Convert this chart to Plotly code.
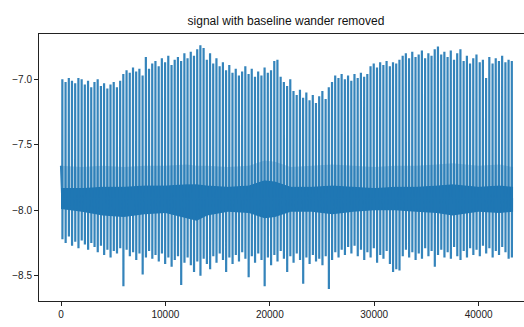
import plotly.graph_objects as go

# ---- data ----
first_value = -7.66
baseline = -7.91
end_sample = 43300

beat_pos = [
    130, 437, 748, 1052, 1359, 1667, 1978, 2281, 2590, 2897,
    3206, 3513, 3820, 4126, 4438, 4741, 5050, 5356, 5668, 5970,
    6279, 6586, 6898, 7201, 7509, 7816, 8128, 8431, 8739, 9046,
    9358, 9661, 9969, 10276, 10588, 10891, 11199, 11506, 11818, 12121,
    12429, 12736, 13048, 13351, 13659, 13966, 14278, 14581, 14889, 15196,
    15508, 15811, 16119, 16426, 16738, 17041, 17349, 17656, 17968, 18271,
    18579, 18886, 19198, 19501, 19809, 20116, 20428, 20731, 21039, 21346,
    21658, 21961, 22269, 22576, 22888, 23191, 23499, 23806, 24118, 24421,
    24729, 25036, 25348, 25651, 25959, 26266, 26578, 26881, 27189, 27496,
    27808, 28111, 28419, 28726, 29038, 29341, 29649, 29956, 30268, 30571,
    30879, 31186, 31498, 31801, 32109, 32416, 32728, 33031, 33339, 33646,
    33958, 34261, 34569, 34876, 35188, 35491, 35799, 36106, 36418, 36721,
    37029, 37336, 37648, 37951, 38259, 38566, 38878, 39181, 39489, 39796,
    40108, 40411, 40719, 41026, 41338, 41641, 41949, 42256, 42568, 42871,
    43181,
]

peak_vals = [
    -7.00, -7.02, -6.99, -7.01, -7.03, -6.99, -7.00, -7.04, -7.01, -7.06,
    -7.02, -7.00, -7.05, -7.03, -7.07, -7.04, -7.02, -7.06, -7.01, -6.96,
    -6.93, -6.95, -6.91, -6.94, -6.92, -6.97, -6.83, -6.92, -6.88, -6.86,
    -6.90, -6.84, -6.87, -6.82, -6.89, -6.85, -6.83, -6.86, -6.80, -6.84,
    -6.79, -6.82, -6.77, -6.74, -6.76, -6.85, -6.80, -6.88, -6.84, -6.90,
    -6.87, -6.93, -6.89, -6.95, -6.92, -6.97, -6.94, -6.90, -6.96, -6.92,
    -6.98, -6.94, -6.97, -6.91, -6.95, -6.93, -6.86, -6.85, -6.98, -7.02,
    -7.05, -7.00, -7.09, -7.12, -7.08, -7.14, -7.10, -7.16, -7.12, -7.18,
    -7.13, -7.09, -7.15, -7.06, -7.02, -6.97, -6.99, -6.96, -7.00, -6.97,
    -7.01, -6.96, -6.99, -6.95, -6.98, -6.96, -6.90, -6.88, -6.91, -6.87,
    -6.89, -6.86, -6.90, -6.87, -6.88, -6.85, -6.82, -6.80, -6.84, -6.79,
    -6.83, -6.81, -6.78, -6.84, -6.80, -6.82, -6.77, -6.75, -6.81, -6.79,
    -6.83, -6.78, -6.85, -6.80, -6.77, -6.86, -6.82, -6.88, -6.84, -6.81,
    -6.87, -6.85, -6.99, -6.83, -6.88, -6.84, -6.86, -6.82, -6.87, -6.85,
    -6.86,
]

trough_vals = [
    -8.22, -8.25, -8.20, -8.27, -8.24, -8.29, -8.23, -8.26, -8.30, -8.25,
    -8.28, -8.32, -8.27, -8.34, -8.30, -8.36, -8.31, -8.33, -8.29, -8.58,
    -8.30, -8.35, -8.32, -8.38, -8.33, -8.49, -8.36, -8.31, -8.37, -8.34,
    -8.39, -8.33, -8.41, -8.36, -8.43, -8.38, -8.35, -8.57, -8.40, -8.36,
    -8.42, -8.47, -8.39, -8.50, -8.37, -8.41, -8.45, -8.35, -8.40, -8.33,
    -8.38, -8.47, -8.36, -8.41, -8.34, -8.39, -8.32, -8.37, -8.51, -8.35,
    -8.40, -8.33, -8.38, -8.58, -8.36, -8.42, -8.34, -8.39, -8.31, -8.37,
    -8.47, -8.35, -8.40, -8.33, -8.38, -8.56, -8.36, -8.41, -8.34, -8.39,
    -8.37, -8.42, -8.35, -8.60, -8.38, -8.32, -8.36, -8.30, -8.34, -8.28,
    -8.33, -8.27, -8.35, -8.30, -8.38, -8.32, -8.36, -8.29, -8.40, -8.34,
    -8.37, -8.31, -8.41, -8.47, -8.45, -8.46, -8.35, -8.30, -8.36, -8.32,
    -8.38, -8.33, -8.37, -8.29, -8.35, -8.31, -8.43, -8.34, -8.30, -8.36,
    -8.32, -8.37, -8.28, -8.35, -8.38, -8.31, -8.36, -8.29, -8.34, -8.30,
    -8.35, -8.27, -8.33, -8.29, -8.36, -8.31, -8.34, -8.28, -8.32, -8.37,
    -8.36,
]

# dense noise band around the baseline (envelope)
band_x = [0, 2000, 4000, 6000, 8000, 10000, 12000, 13000, 14000, 16000,
          18000, 19500, 20500, 22000, 24000, 26000, 28000, 30000, 32000,
          34000, 36000, 37500, 40000, 42000, 43300]
band_hi = [-7.83, -7.83, -7.82, -7.82, -7.81, -7.81, -7.80, -7.80, -7.81, -7.82,
           -7.81, -7.77, -7.78, -7.82, -7.82, -7.81, -7.82, -7.83, -7.82,
           -7.82, -7.81, -7.80, -7.82, -7.81, -7.82]
band_lo = [-7.99, -8.01, -8.04, -8.05, -8.03, -8.02, -8.06, -8.08, -8.04, -8.01,
           -8.02, -8.06, -8.05, -8.01, -8.01, -8.03, -8.01, -8.00, -8.00,
           -8.01, -8.02, -8.04, -8.01, -8.02, -8.01]
cloud_hi = [-7.66, -7.67, -7.66, -7.67, -7.66, -7.66, -7.65, -7.66, -7.66, -7.67,
            -7.66, -7.62, -7.63, -7.67, -7.66, -7.65, -7.66, -7.67, -7.66,
            -7.66, -7.65, -7.64, -7.66, -7.65, -7.67]

x_tick_vals = [0, 10000, 20000, 30000, 40000]
y_tick_vals = [-8.5, -8.0, -7.5, -7.0]

title_text = "signal with baseline wander removed"

# ---- build the trace ----
blue = "#1f77b4"
xs = [0, 60]
ys = [first_value, baseline]
for p, pk, tr in zip(beat_pos, peak_vals, trough_vals):
    xs += [p - 8, p, p + 8, p + 16]
    ys += [baseline, pk, tr, baseline]
xs.append(end_sample)
ys.append(baseline)

fig = go.Figure()

# lighter cloud above the band (T waves)
fig.add_trace(go.Scatter(
    x=band_x + band_x[::-1], y=cloud_hi + band_hi[::-1],
    fill="toself", fillcolor="rgba(31,119,180,0.3)",
    line=dict(width=0), mode="lines", hoverinfo="skip", showlegend=False))

# dense dark band
fig.add_trace(go.Scatter(
    x=band_x + band_x[::-1], y=band_hi + band_lo[::-1],
    fill="toself", fillcolor=blue,
    line=dict(width=0), mode="lines", hoverinfo="skip", showlegend=False))

fig.add_trace(go.Scatter(
    x=xs, y=ys, mode="lines",
    line=dict(color=blue, width=2.2), opacity=0.9, showlegend=False))

font_family = "Liberation Sans, Arial, DejaVu Sans, sans-serif"

fig.update_layout(
    width=524, height=327,
    margin=dict(l=39, r=0, t=34, b=26),
    paper_bgcolor="white", plot_bgcolor="white",
    title=dict(text=title_text, x=286 / 524, xref="container", xanchor="center",
               y=1 - 21 / 327, yref="container", yanchor="middle",
               font=dict(family=font_family, size=12, color="#111111")),
    font=dict(family=font_family, size=10, color="#222222"),
)
fig.update_xaxes(
    range=[-2107, 44349], showgrid=False, zeroline=False,
    showline=True, linecolor="#222222", linewidth=1, mirror=True,
    ticks="outside", ticklen=4, tickcolor="#222222", tickwidth=1,
    tickvals=x_tick_vals, tickformat="d",
    tickfont=dict(family=font_family, size=10, color="#222222"))
fig.update_yaxes(
    range=[-8.692, -6.654], showgrid=False, zeroline=False,
    showline=True, linecolor="#222222", linewidth=1, mirror=False,
    ticks="outside", ticklen=4, tickcolor="#222222", tickwidth=1,
    tickvals=y_tick_vals, tickformat=".1f",
    tickfont=dict(family=font_family, size=10, color="#222222"))

fig.write_html("out.html", config={"displayModeBar": False},
               post_script="document.body.style.margin='0px';document.body.style.overflow='hidden';")
